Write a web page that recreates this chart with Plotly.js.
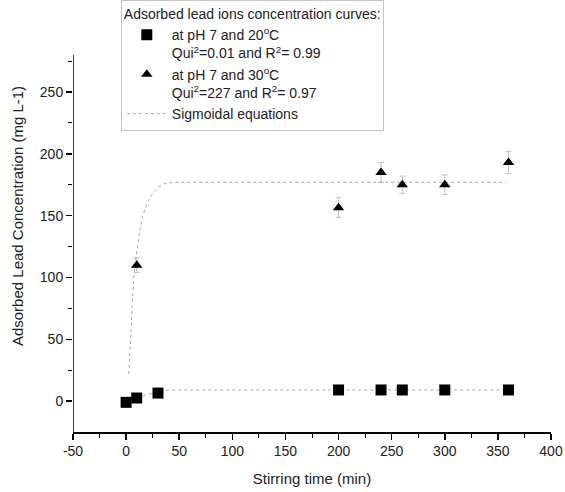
<!DOCTYPE html>
<html>
<head>
<meta charset="utf-8">
<script src="https://cdn.plot.ly/plotly-3.0.1.min.js"></script>
<style>html,body{margin:0;padding:0;background:#fff;}#chart{width:565px;height:492px;}</style>
</head>
<body>
<div id="chart"></div>
<script>
// 20 °C, pH 7 – measured points
const timeA = [0, 10, 30, 200, 240, 260, 300, 360];
const concA = [-1, 2.5, 6.5, 9, 9, 9, 9, 9];
// 30 °C, pH 7 – measured points
const timeB = [10, 200, 240, 260, 300, 360];
const concB = [110, 156.5, 185, 175, 175, 193];
const errB = [6, 8, 8, 7, 8, 9];
// sigmoidal fit curves
const fitTimeA = [0, 10, 20, 30, 40, 50, 100, 200, 300, 360];
const fitConcA = [-1, 2.5, 5.5, 7.5, 8.8, 9, 9, 9, 9, 9];
const fitTimeB = [2.5, 4, 5.5, 7, 9, 11, 13, 15, 18, 21, 25, 30, 36, 45, 100, 200, 300, 358];
const fitConcB = [22, 50, 75, 98, 115, 128, 138, 148, 156, 162, 168, 173, 176, 177, 177, 177, 177, 177];

const xTicks = [-50, 0, 50, 100, 150, 200, 250, 300, 350, 400];
const yTicks = [0, 50, 100, 150, 200, 250];
const yMinorTicks = [25, 75, 125, 175, 225, 275];

const font = "Liberation Sans, Arial, sans-serif";

const traces = [
  {x: fitTimeB, y: fitConcB, mode: 'lines', type: 'scatter', showlegend: false,
   line: {color: '#a8a8a8', width: 1, dash: 'dot'}, hoverinfo: 'skip'},
  {x: fitTimeA, y: fitConcA, mode: 'lines', type: 'scatter', name: 'Sigmoidal equations',
   legendrank: 3, line: {color: '#a8a8a8', width: 1, dash: 'dot'}},
  {x: timeA, y: concA, mode: 'markers', type: 'scatter', legendrank: 1,
   name: 'at pH 7 and 20<sup>o</sup>C<br>Qui<sup>2</sup>=0.01 and R<sup>2</sup>= 0.99',
   marker: {symbol: 'square', size: 11, color: '#000'}},
  {x: timeB, y: concB, mode: 'markers', type: 'scatter', legendrank: 2,
   name: 'at pH 7 and 30<sup>o</sup>C<br>Qui<sup>2</sup>=227 and R<sup>2</sup>= 0.97',
   error_y: {type: 'data', array: errB, visible: true, color: '#aaa', thickness: 0.7, width: 3},
   marker: {symbol: 'triangle-up', size: 10, color: '#000'}}
];

const layout = {
  width: 565, height: 492,
  margin: {l: 73, r: 14, t: 0, b: 60},
  paper_bgcolor: '#fff', plot_bgcolor: 'rgba(0,0,0,0)',
  font: {family: font, color: '#222', size: 14},
  showlegend: true,
  legend: {
    x: 0.1, y: 1.0, xanchor: 'left', yanchor: 'top',
    bgcolor: '#fff', bordercolor: '#c4c4c4', borderwidth: 1,
    font: {family: font, size: 14, color: '#222'},
    valign: 'top', traceorder: 'normal', tracegroupgap: 4,
    title: {text: 'Adsorbed lead ions concentration curves:', font: {family: font, size: 14, color: '#222'}},
    itemwidth: 40
  },
  xaxis: {
    range: [-50, 400], tickvals: xTicks, ticktext: xTicks.map(String),
    showgrid: false, zeroline: false, showline: true, linecolor: '#000', linewidth: 1.5,
    ticks: 'outside', ticklen: 6, tickwidth: 1.5, tickcolor: '#000',
    minor: {dtick: 25, tick0: 0, ticks: 'outside', ticklen: 4, tickwidth: 1, tickcolor: '#000'},
    tickfont: {family: font, size: 14, color: '#222'},
    title: {text: 'Stirring time (min)', font: {family: font, size: 15, color: '#222'}, standoff: 15}
  },
  yaxis: {
    range: [-25, 324.5], tickvals: yTicks, ticktext: yTicks.map(String),
    showgrid: false, zeroline: false, showline: false,
    ticks: 'outside', ticklen: 6, tickwidth: 1.5, tickcolor: '#000',
    minor: {tickvals: yMinorTicks, ticks: 'outside', ticklen: 4, tickwidth: 1, tickcolor: '#000'},
    tickfont: {family: font, size: 14, color: '#222'},
    title: {text: 'Adsorbed Lead Concentration (mg L-1)', font: {family: font, size: 15, color: '#222'}, standoff: 12}
  },
  shapes: [
    {type: 'line', xref: 'x', yref: 'y', x0: -50, x1: -50, y0: -25, y1: 280,
     line: {color: '#000', width: 1.5}, layer: 'above'}
  ]
};

Plotly.newPlot('chart', traces, layout, {displayModeBar: false, staticPlot: true});
</script>
</body>
</html>
